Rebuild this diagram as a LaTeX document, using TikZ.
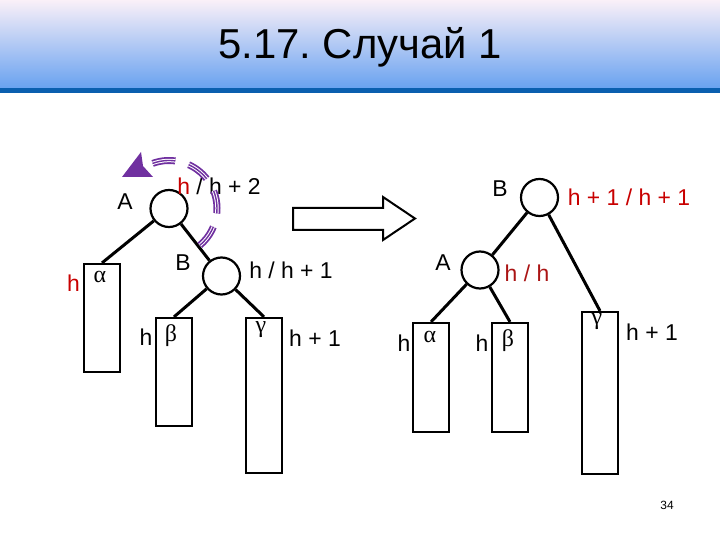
\documentclass[tikz,border=0pt]{standalone}
\usepackage{fontspec}
\setmainfont{Liberation Sans}
\newfontfamily\greekfont{Liberation Serif}
\usetikzlibrary{positioning}
\definecolor{hred}{RGB}{200,0,0}
\definecolor{darkhred}{RGB}{170,20,20}
\definecolor{turnpurple}{RGB}{112,48,160}
\definecolor{bandtop}{RGB}{250,240,248}
\definecolor{bandbot}{RGB}{105,162,240}
\definecolor{bandline}{RGB}{10,95,175}
\frenchspacing

\tikzset{
  vertex/.style={circle,draw,line width=2.2bp,minimum size=37bp,inner sep=0pt},
  subtree/.style={rectangle,draw,line width=2.2bp,minimum width=36bp,inner sep=0pt},
  edge/.style={line width=3bp},
  lbl/.style={inner sep=1bp,font=\fontsize{23}{27}\selectfont},
  glbl/.style={inner sep=1bp,font=\greekfont\fontsize{24}{28}\selectfont},
  turn/.style={draw=turnpurple,line width=7bp,dash pattern=on 23bp off 14bp,
    postaction={draw=white,line width=3.4bp,dash pattern=on 23bp off 14bp},
    postaction={draw=turnpurple,line width=1.4bp,dash pattern=on 23bp off 14bp}}
}

\begin{document}
\begin{tikzpicture}[x=1bp,y=-1bp]
    \useasboundingbox (0,0) rectangle (720,540);

    % title band
    \shade[top color=bandtop,bottom color=bandbot] (0,0) rectangle (720,88);
    \fill[bandline] (0,88) rectangle (720,93);
    \node[font=\fontsize{42}{48}\selectfont] (title) at (360,47) {5.17. Случай 1};

    % before the turn
    \begin{scope}
        \node[vertex] (A1) at (169,208.5) {};
        \node[vertex] (B1) at (221.5,276) {};
        \node[subtree,minimum height=108bp] (alpha1) at (102,318) {};
        \node[subtree,minimum height=108bp] (beta1) at (174,372) {};
        \node[subtree,minimum height=155bp] (gamma1) at (264,395.5) {};

        \draw[edge] (A1) -- (alpha1.north);
        \draw[edge] (A1) -- (B1);
        \draw[edge] (B1) -- (beta1.north);
        \draw[edge] (B1) -- (gamma1.north);

        \node[lbl] (nameA1) at (125,202) {A};
        \node[lbl] (balA1) at (219,186) {{\color{hred}h} / h + 2};
        \node[lbl] (nameB1) at (183,263) {B};
        \node[lbl] (balB1) at (291,270) {h / h + 1};
        \node[lbl,text=hred] (ha1) at (73.5,283) {h};
        \node[glbl] (ga1) at (100,277) {α};
        \node[lbl] (hb1) at (146,337) {h};
        \node[glbl] (gb1) at (171,336) {β};
        \node[glbl] (gc1) at (261,330) {γ};
        \node[lbl] (hc1) at (315,338) {h + 1};

        % rotation hint
        \path[turn] ([shift={(-50:48bp)}]A1.center) arc[start angle=-50,end angle=116,radius=48bp];
        \fill[turnpurple] (122,177) -- (141,152) -- (143,166) -- (153,177) -- cycle;
    \end{scope}

    % big arrow
    \draw[line width=2bp] (293,208) -- (383,208) -- (383,197) -- (415,218.5)
        -- (383,240) -- (383,230) -- (293,230) -- cycle;

    % after the turn
    \begin{scope}
        \node[vertex] (B2) at (539.5,197.5) {};
        \node[vertex] (A2) at (480,270) {};
        \node[subtree,minimum height=109bp] (alpha2) at (431,377.5) {};
        \node[subtree,minimum height=109bp] (beta2) at (510,377.5) {};
        \node[subtree,minimum height=162bp] (gamma2) at (600,393) {};

        \draw[edge] (B2) -- (A2);
        \draw[edge] (B2) -- (gamma2.north);
        \draw[edge] (A2) -- (alpha2.north);
        \draw[edge] (A2) -- (beta2.north);

        \node[lbl] (nameB2) at (500,189) {B};
        \node[lbl,text=hred] (balB2) at (629,197) {h + 1 / h + 1};
        \node[lbl] (nameA2) at (443,263) {A};
        \node[lbl,text=darkhred] (balA2) at (527,273) {h / h};
        \node[lbl] (ha2) at (404,343) {h};
        \node[glbl] (ga2) at (430,337) {α};
        \node[lbl] (hb2) at (482,343) {h};
        \node[glbl] (gb2) at (508,341) {β};
        \node[glbl] (gc2) at (597,322) {γ};
        \node[lbl] (hc2) at (652,332) {h + 1};
    \end{scope}

    \node[font=\fontsize{12}{14}\selectfont] (page) at (667,505) {34};
\end{tikzpicture}
\end{document}
